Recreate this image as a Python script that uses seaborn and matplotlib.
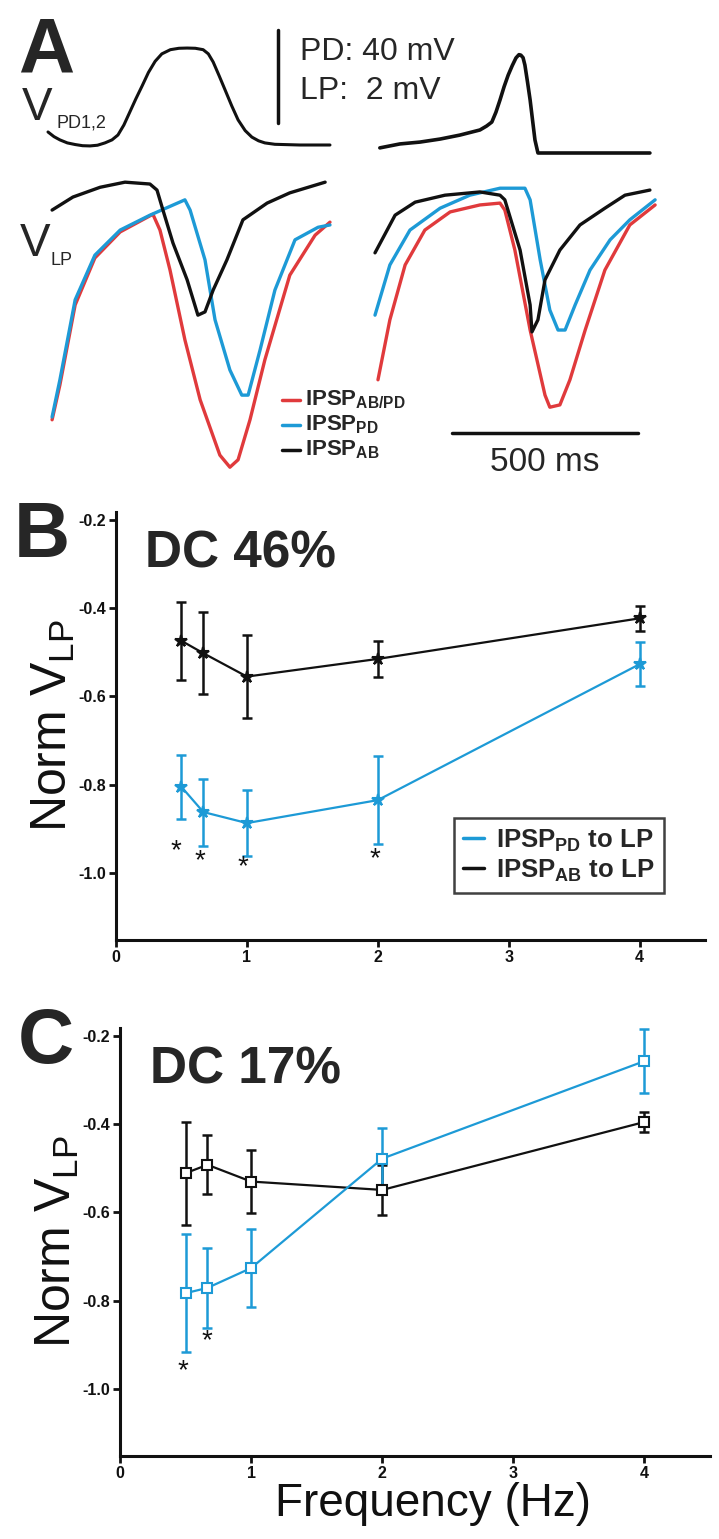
import matplotlib

matplotlib.use("Agg")
import matplotlib.pyplot as plt
import pandas as pd
import seaborn as sns
from matplotlib.lines import Line2D

sns.set_theme(style="ticks")
plt.rcParams["font.family"] = ["Liberation Sans", "DejaVu Sans"]
plt.rcParams["mathtext.fontset"] = "custom"
plt.rcParams["mathtext.rm"] = "Liberation Sans"
plt.rcParams["mathtext.bf"] = "Liberation Sans:bold"
plt.rcParams["axes.unicode_minus"] = False

BLUE = "#1d9ad6"
RED = "#e03a3c"
BLACK = "#111111"

# --- panel A: example traces (ms from sweep start, mV) -------------------
pd_left_t = [0, 16, 32, 52, 73, 93, 113, 133, 153, 172, 188, 204, 220, 236, 253, 270, 288, 306, 329, 352,
             374, 396, 417, 431, 444, 460, 476, 494, 511, 530, 548, 566, 583, 610, 677, 758]
pd_left_v = [5.6, 3.6, 2.2, 0.9, 0.2, -0.3, -0.4, -0.1, 0.9, 2.2, 4.3, 8.6, 14.2, 19.8, 25.4, 31.2, 36.0, 39.2,
             41.0, 41.6, 41.7, 41.6, 41.0, 39.2, 35.7, 29.8, 23.7, 16.8, 10.8, 6.2, 3.4, 1.8, 0.9, 0.3, 0.0, 0.0]
pd_right_t = [13, 67, 121, 175, 228, 282, 300, 314, 325, 336, 347, 358, 369, 379, 387, 392, 398, 403, 410, 417, 424, 430, 438, 497, 739]
pd_right_v = [2.2, 3.9, 4.7, 6.0, 7.7, 9.9, 11.6, 13.3, 17.5, 22.8, 28.5, 33.5, 37.6, 40.9, 42.3, 42.1, 41.0, 37.8, 30.5, 22.8, 13.5, 5.6, 0.0, 0.0, 0.0]

lp_left_t_ab = [11, 67, 140, 207, 274, 293, 309, 336, 374, 403, 422, 444, 481, 524, 589, 650, 745]
lp_left_v_ab = [5.59, 5.87, 6.08, 6.19, 6.15, 6.02, 5.59, 4.88, 4.09, 3.33, 3.40, 3.87, 4.52, 5.38, 5.74, 5.96, 6.19]
lp_left_t_pd = [11, 32, 73, 126, 194, 274, 368, 382, 422, 449, 489, 521, 538, 570, 610, 664, 726, 758]
lp_left_v_pd = [1.14, 1.94, 3.66, 4.62, 5.16, 5.48, 5.81, 5.59, 4.52, 3.23, 2.15, 1.61, 1.61, 2.58, 3.87, 4.95, 5.22, 5.27]
lp_left_t_abpd = [11, 32, 73, 126, 194, 282, 301, 328, 368, 409, 462, 489, 511, 543, 583, 650, 718, 758]
lp_left_v_abpd = [1.08, 1.83, 3.55, 4.56, 5.12, 5.50, 5.16, 4.30, 2.80, 1.51, 0.32, 0.06, 0.22, 1.08, 2.37, 4.19, 5.05, 5.33]

lp_right_t_ab = [0, 54, 108, 188, 282, 336, 349, 390, 417, 422, 438, 457, 497, 551, 618, 672, 739]
lp_right_v_ab = [4.67, 5.48, 5.76, 5.91, 5.98, 5.91, 5.81, 4.73, 3.55, 2.97, 3.23, 4.09, 4.73, 5.27, 5.63, 5.91, 6.02]
lp_right_t_pd = [0, 40, 94, 175, 255, 336, 403, 417, 444, 470, 492, 511, 538, 578, 632, 685, 753]
lp_right_v_pd = [3.33, 4.41, 5.16, 5.63, 5.91, 6.06, 6.06, 5.81, 4.52, 3.44, 3.01, 3.01, 3.55, 4.30, 4.95, 5.38, 5.81]
lp_right_t_abpd = [8, 40, 81, 134, 202, 282, 336, 349, 376, 417, 457, 470, 497, 524, 565, 618, 685, 753]
lp_right_v_abpd = [1.94, 3.23, 4.41, 5.16, 5.55, 5.70, 5.74, 5.59, 4.73, 3.01, 1.61, 1.35, 1.40, 1.94, 3.01, 4.30, 5.27, 5.70]

# --- panels B/C: normalised LP response vs frequency --------------------
freq_hz = [0.5, 0.667, 1, 2, 4]
b_pd_mean = [-0.805, -0.862, -0.887, -0.835, -0.527]
b_pd_err = [0.073, 0.076, 0.074, 0.100, 0.050]
b_ab_mean = [-0.474, -0.502, -0.555, -0.515, -0.423]
b_ab_err = [0.089, 0.093, 0.094, 0.041, 0.028]
b_star_x = [0.46, 0.64, 0.97, 1.98]
b_star_y = [-0.951, -0.973, -0.986, -0.968]

c_pd_mean = [-0.783, -0.771, -0.726, -0.478, -0.257]
c_pd_err = [0.134, 0.090, 0.089, 0.069, 0.072]
c_ab_mean = [-0.511, -0.492, -0.530, -0.549, -0.395]
c_ab_err = [0.117, 0.067, 0.071, 0.056, 0.022]
c_star_x = [0.48, 0.66]
c_star_y = [-0.960, -0.892]

y_ticks = [-0.2, -0.4, -0.6, -0.8, -1.0]
x_ticks = [0, 1, 2, 3, 4]

W, H = 719, 1539
fig = plt.figure(figsize=(W / 100, H / 100), dpi=100)


def fx(px):
    return px / W


def fy(py):
    return 1 - py / H


# ---------------- panel A ----------------
MS_PER_PX = 500 / 186
MV_PER_PX = 2 / 93
axA = fig.add_axes([0, fy(480), 1, 480 / H])
axA.set_xlim(0, W * MS_PER_PX)
axA.set_ylim(-10 * MV_PER_PX, 470 * MV_PER_PX)
axA.axis("off")

left_ms, right_ms = 48 * MS_PER_PX, 375 * MS_PER_PX
pd_scale = 2 / 40  # PD 40 mV drawn at the LP 2 mV bar height
pd_left_base, pd_right_base = 325 * MV_PER_PX, 317 * MV_PER_PX

axA.plot([t + left_ms for t in pd_left_t], [v * pd_scale + pd_left_base for v in pd_left_v], color=BLACK, lw=2.2)
axA.plot([t + right_ms for t in pd_right_t], [v * pd_scale + pd_right_base for v in pd_right_v], color=BLACK, lw=2.6)

for off, tr in [
    (left_ms, [(lp_left_t_abpd, lp_left_v_abpd, RED), (lp_left_t_pd, lp_left_v_pd, BLUE), (lp_left_t_ab, lp_left_v_ab, BLACK)]),
    (right_ms, [(lp_right_t_abpd, lp_right_v_abpd, RED), (lp_right_t_pd, lp_right_v_pd, BLUE), (lp_right_t_ab, lp_right_v_ab, BLACK)]),
]:
    for t, v, c in tr:
        sns.lineplot(x=[x + off for x in t], y=v, color=c, lw=2.4, ax=axA, sort=False, estimator=None)

# scale bars
bar_t = 278 * MS_PER_PX
bar_v0 = 347 * MV_PER_PX
axA.plot([bar_t, bar_t], [bar_v0, bar_v0 + 2], color=BLACK, lw=2.5)
axA.text(300 * MS_PER_PX, bar_v0 + 1.52, "PD: 40 mV", fontsize=23, va="center")
axA.text(300 * MS_PER_PX, bar_v0 + 0.68, "LP:  2 mV", fontsize=23, va="center")
sb_t0, sb_v = 452 * MS_PER_PX, 37 * MV_PER_PX
axA.plot([sb_t0, sb_t0 + 500], [sb_v, sb_v], color=BLACK, lw=2.5)
axA.text(sb_t0 + 250, sb_v - 0.3, "500 ms", fontsize=24, ha="center", va="top")

# legend of panel A
leg_items = [(RED, r"IPSP$_{\mathbf{AB/PD}}$"), (BLUE, r"IPSP$_{\mathbf{PD}}$"), (BLACK, r"IPSP$_{\mathbf{AB}}$")]
for i, (c, lab) in enumerate(leg_items):
    yv = (70 - 25 * i) * MV_PER_PX
    axA.plot([282 * MS_PER_PX, 300 * MS_PER_PX], [yv, yv], color=c, lw=2.5)
    axA.text(305 * MS_PER_PX, yv, lab, fontsize=16, fontweight="bold", va="center")

fig.text(fx(18), fy(73), "A", fontsize=56, fontweight="bold", va="baseline")
fig.text(fx(22), fy(120), "V", fontsize=33, va="baseline")
fig.text(fx(57), fy(128), "PD1,2", fontsize=13, va="baseline")
fig.text(fx(20), fy(256), "V", fontsize=33, va="baseline")
fig.text(fx(51), fy(265), "LP", fontsize=13, va="baseline")


# ---------------- panels B and C ----------------
def freq_panel(ax, pd_mean, pd_err, ab_mean, ab_err, marker, ms, mfc):
    df = pd.DataFrame({
        "freq": freq_hz + freq_hz,
        "norm": pd_mean + ab_mean,
        "err": pd_err + ab_err,
        "input": ["PD"] * len(freq_hz) + ["AB"] * len(freq_hz),
    })
    palette = {"PD": BLUE, "AB": BLACK}
    for name, sub in df.groupby("input"):
        ax.errorbar(sub["freq"], sub["norm"], yerr=sub["err"], fmt="none",
                    ecolor=palette[name], elinewidth=1.8, capsize=3.5, capthick=1.8)
    for name in ["AB", "PD"]:
        sub = df[df["input"] == name]
        sns.lineplot(data=sub, x="freq", y="norm", color=palette[name], lw=1.6,
                     marker=marker, ms=ms, mfc=mfc or palette[name], mec=palette[name], mew=1.5,
                     ax=ax, sort=False, estimator=None, legend=False)
    ax.set_xlim(0, 4.5)
    ax.set_ylim(-1.152, -0.182)
    ax.set_xticks(x_ticks)
    ax.set_xticklabels([str(t) for t in x_ticks])
    ax.set_yticks(y_ticks)
    ax.set_yticklabels([f"{t:.1f}" for t in y_ticks])
    sns.despine(ax=ax)
    for s in ["left", "bottom"]:
        ax.spines[s].set_linewidth(2.2)
        ax.spines[s].set_color(BLACK)
    ax.tick_params(direction="out", length=5, width=2, labelsize=11.5, pad=2, colors=BLACK)
    for lab in ax.get_xticklabels() + ax.get_yticklabels():
        lab.set_fontweight("bold")
    ax.set_ylabel(r"Norm V$_{\mathrm{LP}}$", fontsize=36, labelpad=1, color=BLACK)
    ax.set_xlabel("")


axB = fig.add_axes([fx(116), fy(940), 589 / W, 428 / H])
freq_panel(axB, b_pd_mean, b_pd_err, b_ab_mean, b_ab_err, "*", 9, None)
for x, y in zip(b_star_x, b_star_y):
    axB.text(x, y, "*", fontsize=20, ha="center", va="center", color=BLACK)
handles = [Line2D([], [], color=BLUE, lw=2.5), Line2D([], [], color=BLACK, lw=2.5)]
leg = axB.legend(handles, [r"IPSP$_{\mathbf{PD}}$ to LP", r"IPSP$_{\mathbf{AB}}$ to LP"],
                 loc="upper left", bbox_to_anchor=(0.574, 0.285), borderaxespad=0, frameon=True, fancybox=False,
                 handlelength=0.8, handletextpad=0.5, borderpad=0.35, labelspacing=0.15,
                 prop={"size": 18.5, "weight": "bold"})
leg.get_frame().set_edgecolor(BLACK)
leg.get_frame().set_linewidth(1.8)

axC = fig.add_axes([fx(120), fy(1456), 590 / W, 428 / H])
freq_panel(axC, c_pd_mean, c_pd_err, c_ab_mean, c_ab_err, "s", 7, "white")
for x, y in zip(c_star_x, c_star_y):
    axC.text(x, y, "*", fontsize=20, ha="center", va="center", color=BLACK)
axC.set_xlabel("Frequency (Hz)", fontsize=33, labelpad=1, color=BLACK, x=0.53)

fig.text(fx(14), fy(557), "B", fontsize=56, fontweight="bold", va="baseline")
fig.text(fx(145), fy(567), "DC 46%", fontsize=37, fontweight="bold", va="baseline")
fig.text(fx(18), fy(1063), "C", fontsize=56, fontweight="bold", va="baseline")
fig.text(fx(150), fy(1083), "DC 17%", fontsize=37, fontweight="bold", va="baseline")

fig.savefig("out.png", dpi=100)
